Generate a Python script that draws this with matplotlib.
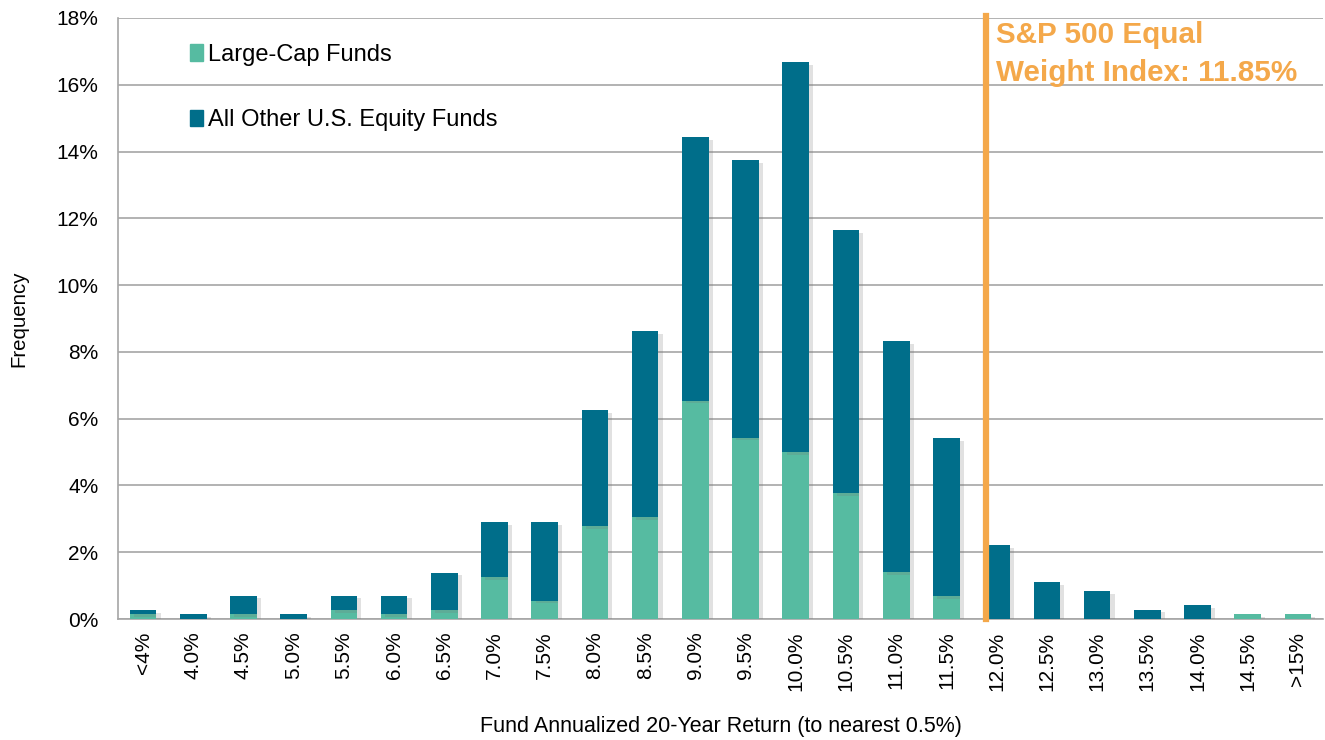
import matplotlib.pyplot as plt
import matplotlib.patheffects as pe
from matplotlib.patches import Patch
import numpy as np

plt.rcParams['font.family'] = ['Liberation Sans', 'DejaVu Sans']

# Return buckets (to nearest 0.5%)
categories = ['<4%', '4.0%', '4.5%', '5.0%', '5.5%', '6.0%', '6.5%', '7.0%', '7.5%',
              '8.0%', '8.5%', '9.0%', '9.5%', '10.0%', '10.5%', '11.0%', '11.5%',
              '12.0%', '12.5%', '13.0%', '13.5%', '14.0%', '14.5%', '>15%']

# Frequency (%)
large_cap = [0.14, 0.0, 0.14, 0.0, 0.27, 0.14, 0.27, 1.26, 0.55,
             2.78, 3.06, 6.54, 5.43, 5.01, 3.77, 1.40, 0.69,
             0.0, 0.0, 0.0, 0.0, 0.0, 0.14, 0.14]
all_other = [0.13, 0.14, 0.56, 0.14, 0.43, 0.56, 1.12, 1.65, 2.36,
             3.48, 5.56, 7.89, 8.31, 11.67, 7.88, 6.92, 4.73,
             2.22, 1.11, 0.83, 0.28, 0.41, 0.0, 0.0]

index_return = 11.85
index_label = 'S&P 500 Equal\nWeight Index: 11.85%'

teal = '#56BBA1'
dark = '#006E8A'
orange = '#F4A84A'

fig = plt.figure(figsize=(13.25, 7.4), dpi=100)
ax = fig.add_axes([0.089, 0.1635, 0.9095, 0.8122])

x = np.arange(len(categories))
shadow = [pe.SimplePatchShadow(offset=(3, -2), shadow_rgbFace='#777777', alpha=0.22), pe.Normal()]
b1 = ax.bar(x, large_cap, width=0.53, color=teal, zorder=3)
b2 = ax.bar(x, all_other, width=0.53, bottom=large_cap, color=dark, zorder=3)
for p in list(b1) + list(b2):
    p.set_path_effects(shadow)

# index line between the 11.5% and 12.0% buckets
i115 = categories.index('11.5%')
line_x = i115 + (index_return - 11.5) / 0.5 + 0.08
ax.axvline(line_x, ymin=0, ymax=1.003, color=orange, lw=4.5, zorder=4, clip_on=False)
ax.text(line_x + 0.2, 17.92, index_label, color=orange, fontsize=21.3, fontweight='bold',
        va='top', ha='left', linespacing=1.45)

ax.set_xlim(-0.5, len(categories) - 0.5)
ax.set_ylim(0, 18)
ax.set_yticks(np.arange(0, 19, 2))
ax.set_yticklabels([f'{v}%' for v in range(0, 19, 2)], fontsize=15)
ax.set_xticks(x)
ax.set_xticklabels(categories, rotation=90, fontsize=15)
ax.tick_params(length=0)
ax.tick_params(axis='x', pad=9)
ax.tick_params(axis='y', pad=14)
ax.grid(axis='y', color='#A6A6A6', lw=1.2, zorder=0)
for s in ['top', 'right']:
    ax.spines[s].set_visible(False)
for s in ['left', 'bottom']:
    ax.spines[s].set_color('#A6A6A6')
    ax.spines[s].set_linewidth(1.2)

ax.set_xlabel('Fund Annualized 20-Year Return (to nearest 0.5%)', fontsize=15.5, labelpad=18)
ax.set_ylabel('Frequency', fontsize=14.7, labelpad=20)

handles = [Patch(color=teal, label='Large-Cap Funds'),
           Patch(color=dark, label='All Other U.S. Equity Funds')]
ax.legend(handles=handles, loc='upper left', bbox_to_anchor=(0.052, 0.973), frameon=False,
          fontsize=17, handlelength=0.55, handleheight=0.7, handletextpad=0.2,
          labelspacing=1.85, borderaxespad=0)

fig.savefig('out.png', dpi=100)
